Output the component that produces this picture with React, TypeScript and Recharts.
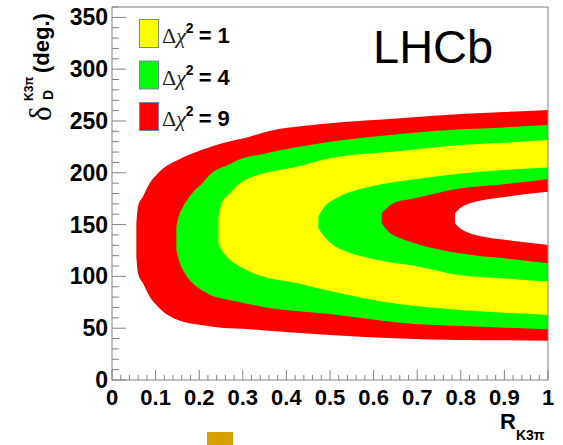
import React from "react";
import { ComposedChart, Area, XAxis, YAxis, ReferenceArea } from "recharts";

// contour bands, outer to inner; each given by x samples and lower/upper delta boundary (deg)
const red9X = [0.0558, 0.0596, 0.0711, 0.0864, 0.1055, 0.113, 0.151, 0.205, 0.266, 0.3, 0.344, 0.5, 0.661, 0.8, 0.9, 1];
const red9Lo = [118.5, 103, 93.3, 80.4, 70.8, 67.6, 57.9, 53, 49.9, 49.5, 48, 43.4, 40, 38.6, 38.3, 38];
const red9Hi = [150.6, 167.3, 177, 189.8, 199.5, 202.7, 212.4, 222, 230, 233, 238.5, 247.7, 252.6, 256.8, 258.7, 260.6];

const green4X = [0.1476, 0.153, 0.163, 0.178, 0.19, 0.205, 0.228, 0.266, 0.289, 0.344, 0.5, 0.661, 0.8, 0.9, 1];
const green4Lo = [125.5, 116, 106, 96.5, 91.5, 86.9, 81.5, 77.5, 75.6, 70.8, 63.7, 55.3, 52, 50.5, 49];
const green4Hi = [148, 158, 167.3, 177, 183.4, 189, 199.5, 207.5, 212.4, 218, 230, 237.5, 242, 243.8, 246];

const yellow1X = [0.244, 0.2515, 0.269, 0.2936, 0.324, 0.362, 0.4075, 0.5, 0.661, 0.8, 0.9, 1];
const yellow1Lo = [132, 125.5, 116.5, 109.4, 103, 98, 94.9, 86, 73, 67.6, 65, 62.7];
const yellow1Hi = [157.6, 170.5, 179.5, 189.9, 196.3, 201, 204.3, 214, 221, 226.8, 229, 231.7];

const greenInX = [0.4733, 0.487, 0.5076, 0.538, 0.5765, 0.63, 0.6835, 0.8, 0.9, 1];
const greenInLo = [146.4, 138.3, 130.3, 123.9, 119, 114.2, 111, 101, 98, 95];
const greenInHi = [157.6, 167.3, 173.7, 180.2, 185, 189.9, 193, 199.4, 202.7, 205];

const redInX = [0.6185, 0.634, 0.653, 0.6835, 0.8, 0.9, 1];
const redInLo = [151.3, 143.2, 138.3, 133.5, 122, 117.4, 112.6];
const redInHi = [160.9, 167.3, 172, 174.4, 185, 189, 193.7];

const whiteX = [0.7867, 0.798, 0.821, 0.8517, 0.905, 0.966, 1];
const whiteLo = [151.3, 146.4, 141.6, 138.3, 135.1, 131.9, 130.3];
const whiteHi = [160.9, 165.7, 170.5, 173.7, 176.9, 180.2, 181.8];

const legendLabels = ["1", "4", "9"];
const legendColors = ["#ffff00", "#00ff00", "#ff0000"];

const yMajor = [0, 50, 100, 150, 200, 250, 300, 350];
const xMajorLabels = ["0", "0.1", "0.2", "0.3", "0.4", "0.5", "0.6", "0.7", "0.8", "0.9", "1"];
const yTicks = Array.from({ length: 37 }, (_, i) => i * 10);
const xTicks = Array.from({ length: 51 }, (_, i) => Number((i * 0.02).toFixed(2)));

const bands = [
  { key: "red9", color: "#ff0000", xs: red9X, lo: red9Lo, hi: red9Hi },
  { key: "green4", color: "#00ff00", xs: green4X, lo: green4Lo, hi: green4Hi },
  { key: "yellow1", color: "#ffff00", xs: yellow1X, lo: yellow1Lo, hi: yellow1Hi },
  { key: "greenIn", color: "#00ff00", xs: greenInX, lo: greenInLo, hi: greenInHi },
  { key: "redIn", color: "#ff0000", xs: redInX, lo: redInLo, hi: redInHi },
  { key: "white", color: "#ffffff", xs: whiteX, lo: whiteLo, hi: whiteHi },
];

const allX = Array.from(new Set(bands.flatMap((b) => b.xs))).sort((a, b) => a - b);
const data = allX.map((x) => {
  const row: any = { x };
  bands.forEach((b) => {
    const i = b.xs.indexOf(x);
    row[b.key] = i >= 0 ? [b.lo[i], b.hi[i]] : [null, null];
  });
  return row;
});

const FRAME = "#808080";
const FONT = "'Liberation Sans', Arial, sans-serif";

const YTick = (props: any) => {
  const { x, y, payload } = props;
  const v = payload.value;
  const major = yMajor.includes(v);
  return (
    <g>
      <line x1={x} x2={x + (major ? 14 : 7)} y1={y} y2={y} stroke={FRAME} />
      {major && (
        <text x={x - 4} y={y + 8} textAnchor="end" fontFamily={FONT} fontWeight="bold" fontSize={23} fill="#000">
          {v}
        </text>
      )}
    </g>
  );
};

const XTick = (props: any) => {
  const { x, y, payload } = props;
  const idx = Math.round(payload.value * 50);
  const major = idx % 5 === 0;
  return (
    <g>
      <line x1={x} x2={x} y1={y} y2={y - (major ? 10 : 5)} stroke={FRAME} />
      {major && (
        <text x={x} y={y + 25} textAnchor="middle" fontFamily={FONT} fontWeight="bold" fontSize={22} fill="#000">
          {xMajorLabels[idx / 5]}
        </text>
      )}
    </g>
  );
};

export default function App() {
  return (
    <div style={{ position: "absolute", left: 0, top: 0, width: 563, height: 445, background: "#fff" }}>
      <ComposedChart width={563} height={445} data={data} margin={{ top: 7, right: 15, bottom: 0, left: 0 }}>
        <XAxis
          dataKey="x"
          type="number"
          domain={[0, 1]}
          ticks={xTicks}
          interval={0}
          tick={<XTick />}
          tickSize={0}
          tickMargin={0}
          axisLine={false}
          height={65}
          allowDataOverflow
        />
        <YAxis
          type="number"
          domain={[0, 360]}
          ticks={yTicks}
          interval={0}
          tick={<YTick />}
          tickSize={0}
          tickMargin={0}
          axisLine={false}
          width={112}
          allowDataOverflow
        />
        {bands.map((b) => (
          <Area
            key={b.key}
            dataKey={b.key}
            type="monotone"
            stroke="none"
            fill={b.color}
            fillOpacity={1}
            connectNulls
            isAnimationActive={false}
          />
        ))}
        <ReferenceArea x1={0} x2={1} y1={0} y2={360} fill="none" stroke={FRAME} strokeWidth={1} ifOverflow="visible" />
      </ComposedChart>
      <svg width={563} height={445} style={{ position: "absolute", left: 0, top: 0, pointerEvents: "none" }}>
        {legendLabels.map((lab, i) => {
          const top = 19 + i * 41.5;
          return (
            <g key={lab}>
              <rect x={139.5} y={top + 0.5} width={19} height={28} fill={legendColors[i]} stroke="#8080b8" />
              <text x={162} y={top + 24} fontSize={22} fill="#222">
                <tspan fontFamily="'Liberation Serif', serif">Δ</tspan>
                <tspan fontFamily="'Liberation Serif', serif" fontStyle="italic">χ</tspan>
                <tspan fontFamily={FONT} fontWeight="bold" fontSize={14} dy={-10} fill="#000">2</tspan>
                <tspan fontFamily={FONT} fontWeight="bold" dy={10} dx={5} fill="#000">= {lab}</tspan>
              </text>
            </g>
          );
        })}
        <text x={373} y={63} fontFamily={FONT} fontSize={47} fill="#000">LHCb</text>
        <text transform="rotate(-90)" fontFamily={FONT} fontWeight="bold" fontSize={22} fill="#000">
          <tspan x={-121} y={51} fontWeight="normal" fontFamily="'Liberation Serif', serif" fontSize={31}>δ</tspan>
          <tspan x={-100} y={53} fontSize={14}>D</tspan>
          <tspan x={-101} y={33} fontSize={12}>K3π</tspan>
          <tspan x={-73} y={49}>(deg.)</tspan>
        </text>
        <text x={500} y={429} fontFamily={FONT} fontWeight="bold" fontSize={22} fill="#000">
          R<tspan fontSize={14} dy={11}>K3π</tspan>
        </text>
      </svg>
      <div style={{ position: "absolute", left: 207, top: 432, width: 26, height: 13, background: "#d4a000" }} />
    </div>
  );
}
